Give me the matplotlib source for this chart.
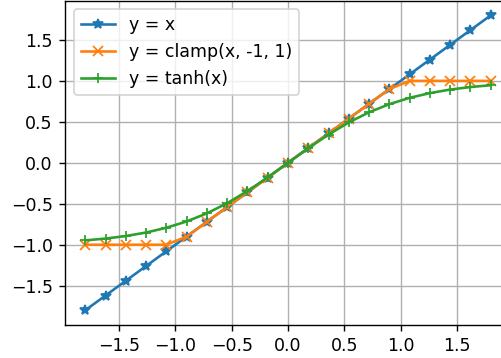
import matplotlib
matplotlib.use("Agg")
import matplotlib.pyplot as plt

x = [-1.8, -1.62, -1.44, -1.26, -1.08, -0.9, -0.72, -0.54, -0.36, -0.18, 0.0,
     0.18, 0.36, 0.54, 0.72, 0.9, 1.08, 1.26, 1.44, 1.62, 1.8]
y_ident = [-1.8, -1.62, -1.44, -1.26, -1.08, -0.9, -0.72, -0.54, -0.36, -0.18, 0.0,
           0.18, 0.36, 0.54, 0.72, 0.9, 1.08, 1.26, 1.44, 1.62, 1.8]
y_clamp = [-1.0, -1.0, -1.0, -1.0, -1.0, -0.9, -0.72, -0.54, -0.36, -0.18, 0.0,
           0.18, 0.36, 0.54, 0.72, 0.9, 1.0, 1.0, 1.0, 1.0, 1.0]
y_tanh = [-0.947, -0.925, -0.894, -0.851, -0.793, -0.716, -0.617, -0.493, -0.345, -0.178, 0.0,
          0.178, 0.345, 0.493, 0.617, 0.716, 0.793, 0.851, 0.894, 0.925, 0.947]

dpi = 125
fig = plt.figure(figsize=(501 / dpi, 358 / dpi), dpi=dpi)
ax = fig.add_axes([65 / 501, 33 / 358, 446 / 501, 324.4 / 358])

ax.plot(x, y_ident, '*-', label='y = x')
ax.plot(x, y_clamp, 'x-', label='y = clamp(x, -1, 1)')
ax.plot(x, y_tanh, '+-', label='y = tanh(x)')
ax.grid(True)
ax.legend(loc='upper left')

fig.savefig('out.png', dpi=dpi)
